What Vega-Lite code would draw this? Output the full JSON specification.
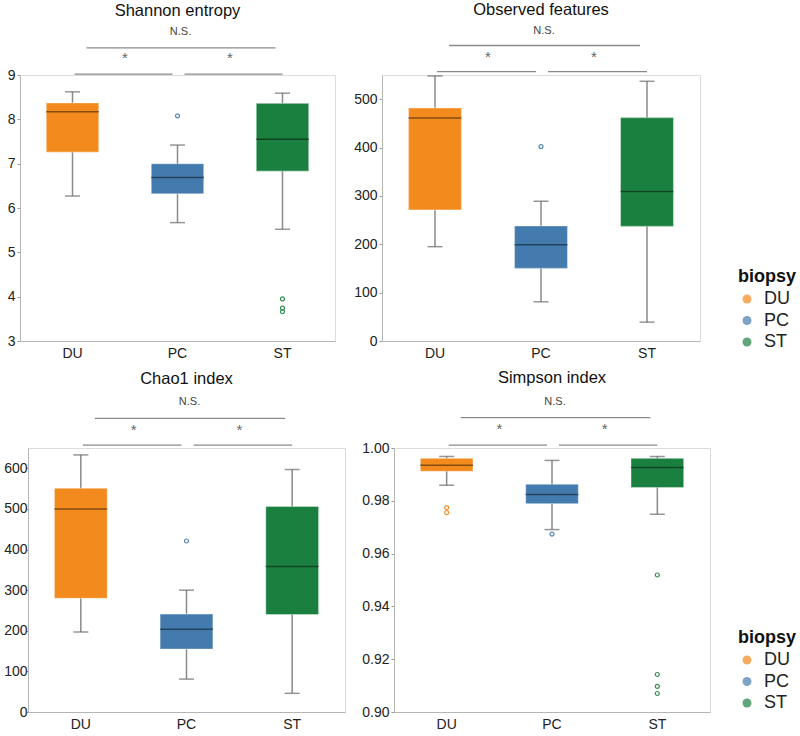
{
  "$schema": "https://vega.github.io/schema/vega-lite/v6.json",
  "padding": {"left": 0, "top": 1, "right": 0, "bottom": 0},
  "background": "white",
  "datasets": {
    "shannon_box": [
      {"biopsy": "DU", "lower": 6.27, "q1": 7.26, "median": 8.17, "q3": 8.37, "upper": 8.62},
      {"biopsy": "PC", "lower": 5.67, "q1": 6.32, "median": 6.69, "q3": 7.0, "upper": 7.42},
      {"biopsy": "ST", "lower": 5.52, "q1": 6.83, "median": 7.55, "q3": 8.36, "upper": 8.59}
    ],
    "shannon_out": [
      {"biopsy": "PC", "value": 8.08},
      {"biopsy": "ST", "value": 3.95},
      {"biopsy": "ST", "value": 3.74},
      {"biopsy": "ST", "value": 3.66}
    ],
    "shannon_brk": [
      {"kind": "left", "from": "DU", "to": "PC", "y": 9.02},
      {"kind": "right", "from": "PC", "to": "ST", "y": 9.02},
      {"kind": "top", "from": "DU", "to": "ST", "y": 9.61}
    ],
    "shannon_lab": [
      {"kind": "star", "at": "DU", "label": "*", "y": 9.38},
      {"kind": "star", "at": "PC", "label": "*", "y": 9.38},
      {"kind": "ns", "at": "PC", "label": "N.S.", "y": 9.97}
    ],
    "obs_box": [
      {"biopsy": "DU", "lower": 195, "q1": 271, "median": 461, "q3": 482, "upper": 548},
      {"biopsy": "PC", "lower": 81, "q1": 150, "median": 199, "q3": 238, "upper": 289},
      {"biopsy": "ST", "lower": 39, "q1": 237, "median": 309, "q3": 462, "upper": 537}
    ],
    "obs_out": [
      {"biopsy": "PC", "value": 402}
    ],
    "obs_brk": [
      {"kind": "left", "from": "DU", "to": "PC", "y": 557},
      {"kind": "right", "from": "PC", "to": "ST", "y": 557},
      {"kind": "top", "from": "DU", "to": "ST", "y": 611}
    ],
    "obs_lab": [
      {"kind": "star", "at": "DU", "label": "*", "y": 587},
      {"kind": "star", "at": "PC", "label": "*", "y": 587},
      {"kind": "ns", "at": "PC", "label": "N.S.", "y": 642}
    ],
    "chao_box": [
      {"biopsy": "DU", "lower": 197, "q1": 280, "median": 500, "q3": 551, "upper": 633},
      {"biopsy": "PC", "lower": 81, "q1": 155, "median": 204, "q3": 241, "upper": 300},
      {"biopsy": "ST", "lower": 46, "q1": 240, "median": 358, "q3": 506, "upper": 597}
    ],
    "chao_out": [
      {"biopsy": "PC", "value": 421}
    ],
    "chao_brk": [
      {"kind": "left", "from": "DU", "to": "PC", "y": 657},
      {"kind": "right", "from": "PC", "to": "ST", "y": 657},
      {"kind": "top", "from": "DU", "to": "ST", "y": 723}
    ],
    "chao_lab": [
      {"kind": "star", "at": "DU", "label": "*", "y": 695},
      {"kind": "star", "at": "PC", "label": "*", "y": 695},
      {"kind": "ns", "at": "PC", "label": "N.S.", "y": 763}
    ],
    "simp_box": [
      {"biopsy": "DU", "lower": 0.9859, "q1": 0.9912, "median": 0.9935, "q3": 0.9961, "upper": 0.9968},
      {"biopsy": "PC", "lower": 0.9691, "q1": 0.9789, "median": 0.9824, "q3": 0.9863, "upper": 0.9953},
      {"biopsy": "ST", "lower": 0.9749, "q1": 0.985, "median": 0.9926, "q3": 0.9961, "upper": 0.9968}
    ],
    "simp_out": [
      {"biopsy": "DU", "value": 0.9774},
      {"biopsy": "DU", "value": 0.9755},
      {"biopsy": "PC", "value": 0.9674},
      {"biopsy": "ST", "value": 0.9519},
      {"biopsy": "ST", "value": 0.9142},
      {"biopsy": "ST", "value": 0.9097},
      {"biopsy": "ST", "value": 0.907}
    ],
    "simp_brk": [
      {"kind": "left", "from": "DU", "to": "PC", "y": 1.0011},
      {"kind": "right", "from": "PC", "to": "ST", "y": 1.0011},
      {"kind": "top", "from": "DU", "to": "ST", "y": 1.0115}
    ],
    "simp_lab": [
      {"kind": "star", "at": "DU", "label": "*", "y": 1.0072},
      {"kind": "star", "at": "PC", "label": "*", "y": 1.0072},
      {"kind": "ns", "at": "PC", "label": "N.S.", "y": 1.0176}
    ],
    "none": []
  },
  "resolve": {"scale": {"color": "independent"}},
  "spacing": 8,
  "vconcat": [
    {
      "spacing": 0,
      "hconcat": [
        {"data": {"name": "none"}, "width": 1, "height": 1, "mark": "point", "encoding": {}, "view": {"stroke": "transparent"}},
        {
          "spacing": 17,
          "hconcat": [
            {
              "width": 315, "height": 266,
              "title": "Shannon entropy",
              "layer": [
                {"data": {"name": "shannon_box"}, "mark": {"type": "rule", "color": "#8a8a8a", "strokeWidth": 1.5},
                 "encoding": {
                   "x": {"field": "biopsy", "type": "nominal", "scale": {"domain": ["DU", "PC", "ST"], "paddingInner": 0, "paddingOuter": 0}, "axis": {"title": null, "labelAngle": 0}},
                   "y": {"field": "lower", "type": "quantitative", "scale": {"domain": [3, 9], "nice": false, "zero": false}, "axis": {"title": null, "values": [3, 4, 5, 6, 7, 8, 9], "minExtent": 16}},
                   "y2": {"field": "upper"}}},
                {"data": {"name": "shannon_box"}, "mark": {"type": "bar", "width": {"band": 0.5}, "stroke": "white", "strokeOpacity": 0.35, "strokeWidth": 1.2},
                 "encoding": {
                   "x": {"field": "biopsy", "type": "nominal", "axis": {"title": null}},
                   "y": {"field": "q1", "type": "quantitative", "axis": {"title": null}}, "y2": {"field": "q3"},
                   "color": {"field": "biopsy", "type": "nominal", "scale": {"domain": ["DU", "PC", "ST"], "range": ["#F28A1E", "#447BAE", "#1A8040"]}, "legend": {"title": "biopsy", "orient": "none", "legendX": 737, "legendY": 193}}}},
                {"data": {"name": "shannon_box"}, "mark": {"type": "tick", "color": "#000", "opacity": 0.45, "size": 53, "thickness": 1.5},
                 "encoding": {"x": {"field": "biopsy", "type": "nominal", "axis": {"title": null}}, "y": {"field": "median", "type": "quantitative", "axis": {"title": null}}}},
                {"data": {"name": "shannon_box"}, "mark": {"type": "tick", "color": "#6a6a6a", "size": 15, "thickness": 1.5},
                 "encoding": {"x": {"field": "biopsy", "type": "nominal", "axis": {"title": null}}, "y": {"field": "lower", "type": "quantitative", "axis": {"title": null}}}},
                {"data": {"name": "shannon_box"}, "mark": {"type": "tick", "color": "#6a6a6a", "size": 15, "thickness": 1.5},
                 "encoding": {"x": {"field": "biopsy", "type": "nominal", "axis": {"title": null}}, "y": {"field": "upper", "type": "quantitative", "axis": {"title": null}}}},
                {"data": {"name": "shannon_out"}, "mark": {"type": "point", "filled": false, "size": 16, "strokeWidth": 1.2, "opacity": 0.9},
                 "encoding": {"x": {"field": "biopsy", "type": "nominal", "axis": {"title": null}}, "y": {"field": "value", "type": "quantitative", "axis": {"title": null}}, "color": {"field": "biopsy", "type": "nominal", "legend": null}}},
                {"data": {"name": "shannon_brk"}, "transform": [{"filter": "datum.kind === 'left'"}], "mark": {"type": "rule", "color": "#8a8a8a", "strokeWidth": 1.3, "xOffset": 2, "x2Offset": -5},
                 "encoding": {"x": {"field": "from", "type": "nominal", "axis": {"title": null}}, "x2": {"field": "to"}, "y": {"field": "y", "type": "quantitative", "axis": {"title": null}}}},
                {"data": {"name": "shannon_brk"}, "transform": [{"filter": "datum.kind === 'right'"}], "mark": {"type": "rule", "color": "#8a8a8a", "strokeWidth": 1.3, "xOffset": 7, "x2Offset": 0},
                 "encoding": {"x": {"field": "from", "type": "nominal", "axis": {"title": null}}, "x2": {"field": "to"}, "y": {"field": "y", "type": "quantitative", "axis": {"title": null}}}},
                {"data": {"name": "shannon_brk"}, "transform": [{"filter": "datum.kind === 'top'"}], "mark": {"type": "rule", "color": "#8a8a8a", "strokeWidth": 1.3, "xOffset": 14, "x2Offset": -7},
                 "encoding": {"x": {"field": "from", "type": "nominal", "axis": {"title": null}}, "x2": {"field": "to"}, "y": {"field": "y", "type": "quantitative", "axis": {"title": null}}}},
                {"data": {"name": "shannon_lab"}, "transform": [{"filter": "datum.kind === 'star'"}], "mark": {"type": "text", "fontSize": 15, "color": "#666", "baseline": "middle"},
                 "encoding": {"x": {"field": "at", "type": "nominal", "bandPosition": 1, "axis": {"title": null}}, "y": {"field": "y", "type": "quantitative", "axis": {"title": null}}, "text": {"field": "label"}}},
                {"data": {"name": "shannon_lab"}, "transform": [{"filter": "datum.kind === 'ns'"}], "mark": {"type": "text", "fontSize": 11, "color": "#444", "baseline": "middle", "dx": 3},
                 "encoding": {"x": {"field": "at", "type": "nominal", "axis": {"title": null}}, "y": {"field": "y", "type": "quantitative", "axis": {"title": null}}, "text": {"field": "label"}}}
              ]
            },
            {
              "width": 318, "height": 266,
              "title": "Observed features",
              "layer": [
                {"data": {"name": "obs_box"}, "mark": {"type": "rule", "color": "#8a8a8a", "strokeWidth": 1.5},
                 "encoding": {
                   "x": {"field": "biopsy", "type": "nominal", "scale": {"domain": ["DU", "PC", "ST"], "paddingInner": 0, "paddingOuter": 0}, "axis": {"title": null, "labelAngle": 0}},
                   "y": {"field": "lower", "type": "quantitative", "scale": {"domain": [0, 550], "nice": false}, "axis": {"title": null, "values": [0, 100, 200, 300, 400, 500]}},
                   "y2": {"field": "upper"}}},
                {"data": {"name": "obs_box"}, "mark": {"type": "bar", "width": {"band": 0.5}, "stroke": "white", "strokeOpacity": 0.35, "strokeWidth": 1.2},
                 "encoding": {
                   "x": {"field": "biopsy", "type": "nominal", "axis": {"title": null}},
                   "y": {"field": "q1", "type": "quantitative", "axis": {"title": null}}, "y2": {"field": "q3"},
                   "color": {"field": "biopsy", "type": "nominal", "scale": {"domain": ["DU", "PC", "ST"], "range": ["#F28A1E", "#447BAE", "#1A8040"]}, "legend": {"title": "biopsy", "orient": "none", "legendX": 737, "legendY": 193}}}},
                {"data": {"name": "obs_box"}, "mark": {"type": "tick", "color": "#000", "opacity": 0.45, "size": 53, "thickness": 1.5},
                 "encoding": {"x": {"field": "biopsy", "type": "nominal", "axis": {"title": null}}, "y": {"field": "median", "type": "quantitative", "axis": {"title": null}}}},
                {"data": {"name": "obs_box"}, "mark": {"type": "tick", "color": "#6a6a6a", "size": 15, "thickness": 1.5},
                 "encoding": {"x": {"field": "biopsy", "type": "nominal", "axis": {"title": null}}, "y": {"field": "lower", "type": "quantitative", "axis": {"title": null}}}},
                {"data": {"name": "obs_box"}, "mark": {"type": "tick", "color": "#6a6a6a", "size": 15, "thickness": 1.5},
                 "encoding": {"x": {"field": "biopsy", "type": "nominal", "axis": {"title": null}}, "y": {"field": "upper", "type": "quantitative", "axis": {"title": null}}}},
                {"data": {"name": "obs_out"}, "mark": {"type": "point", "filled": false, "size": 16, "strokeWidth": 1.2, "opacity": 0.9},
                 "encoding": {"x": {"field": "biopsy", "type": "nominal", "axis": {"title": null}}, "y": {"field": "value", "type": "quantitative", "axis": {"title": null}}, "color": {"field": "biopsy", "type": "nominal", "legend": null}}},
                {"data": {"name": "obs_brk"}, "transform": [{"filter": "datum.kind === 'left'"}], "mark": {"type": "rule", "color": "#8a8a8a", "strokeWidth": 1.3, "xOffset": 2, "x2Offset": -5},
                 "encoding": {"x": {"field": "from", "type": "nominal", "axis": {"title": null}}, "x2": {"field": "to"}, "y": {"field": "y", "type": "quantitative", "axis": {"title": null}}}},
                {"data": {"name": "obs_brk"}, "transform": [{"filter": "datum.kind === 'right'"}], "mark": {"type": "rule", "color": "#8a8a8a", "strokeWidth": 1.3, "xOffset": 7, "x2Offset": 0},
                 "encoding": {"x": {"field": "from", "type": "nominal", "axis": {"title": null}}, "x2": {"field": "to"}, "y": {"field": "y", "type": "quantitative", "axis": {"title": null}}}},
                {"data": {"name": "obs_brk"}, "transform": [{"filter": "datum.kind === 'top'"}], "mark": {"type": "rule", "color": "#8a8a8a", "strokeWidth": 1.3, "xOffset": 14, "x2Offset": -7},
                 "encoding": {"x": {"field": "from", "type": "nominal", "axis": {"title": null}}, "x2": {"field": "to"}, "y": {"field": "y", "type": "quantitative", "axis": {"title": null}}}},
                {"data": {"name": "obs_lab"}, "transform": [{"filter": "datum.kind === 'star'"}], "mark": {"type": "text", "fontSize": 15, "color": "#666", "baseline": "middle"},
                 "encoding": {"x": {"field": "at", "type": "nominal", "bandPosition": 1, "axis": {"title": null}}, "y": {"field": "y", "type": "quantitative", "axis": {"title": null}}, "text": {"field": "label"}}},
                {"data": {"name": "obs_lab"}, "transform": [{"filter": "datum.kind === 'ns'"}], "mark": {"type": "text", "fontSize": 11, "color": "#444", "baseline": "middle", "dx": 3},
                 "encoding": {"x": {"field": "at", "type": "nominal", "axis": {"title": null}}, "y": {"field": "y", "type": "quantitative", "axis": {"title": null}}, "text": {"field": "label"}}}
              ]
            }
          ]
        }
      ]
    },
    {
      "spacing": 0,
      "hconcat": [
        {"data": {"name": "none"}, "width": 1, "height": 1, "mark": "point", "encoding": {}, "view": {"stroke": "transparent"}},
        {
          "spacing": 15,
          "hconcat": [
            {
              "width": 317, "height": 264,
              "title": {"text": "Chao1 index", "offset": 9},
              "layer": [
                {"data": {"name": "chao_box"}, "mark": {"type": "rule", "color": "#8a8a8a", "strokeWidth": 1.5},
                 "encoding": {
                   "x": {"field": "biopsy", "type": "nominal", "scale": {"domain": ["DU", "PC", "ST"], "paddingInner": 0, "paddingOuter": 0}, "axis": {"title": null, "labelAngle": 0}},
                   "y": {"field": "lower", "type": "quantitative", "scale": {"domain": [0, 650], "nice": false}, "axis": {"title": null, "values": [0, 100, 200, 300, 400, 500, 600], "tickSize": 2, "labelPadding": -1}},
                   "y2": {"field": "upper"}}},
                {"data": {"name": "chao_box"}, "mark": {"type": "bar", "width": {"band": 0.5}, "stroke": "white", "strokeOpacity": 0.35, "strokeWidth": 1.2},
                 "encoding": {
                   "x": {"field": "biopsy", "type": "nominal", "axis": {"title": null}},
                   "y": {"field": "q1", "type": "quantitative", "axis": {"title": null}}, "y2": {"field": "q3"},
                   "color": {"field": "biopsy", "type": "nominal", "scale": {"domain": ["DU", "PC", "ST"], "range": ["#F28A1E", "#447BAE", "#1A8040"]}, "legend": {"title": "biopsy", "orient": "none", "legendX": 737, "legendY": 181}}}},
                {"data": {"name": "chao_box"}, "mark": {"type": "tick", "color": "#000", "opacity": 0.45, "size": 53, "thickness": 1.5},
                 "encoding": {"x": {"field": "biopsy", "type": "nominal", "axis": {"title": null}}, "y": {"field": "median", "type": "quantitative", "axis": {"title": null}}}},
                {"data": {"name": "chao_box"}, "mark": {"type": "tick", "color": "#6a6a6a", "size": 15, "thickness": 1.5},
                 "encoding": {"x": {"field": "biopsy", "type": "nominal", "axis": {"title": null}}, "y": {"field": "lower", "type": "quantitative", "axis": {"title": null}}}},
                {"data": {"name": "chao_box"}, "mark": {"type": "tick", "color": "#6a6a6a", "size": 15, "thickness": 1.5},
                 "encoding": {"x": {"field": "biopsy", "type": "nominal", "axis": {"title": null}}, "y": {"field": "upper", "type": "quantitative", "axis": {"title": null}}}},
                {"data": {"name": "chao_out"}, "mark": {"type": "point", "filled": false, "size": 16, "strokeWidth": 1.2, "opacity": 0.9},
                 "encoding": {"x": {"field": "biopsy", "type": "nominal", "axis": {"title": null}}, "y": {"field": "value", "type": "quantitative", "axis": {"title": null}}, "color": {"field": "biopsy", "type": "nominal", "legend": null}}},
                {"data": {"name": "chao_brk"}, "transform": [{"filter": "datum.kind === 'left'"}], "mark": {"type": "rule", "color": "#8a8a8a", "strokeWidth": 1.3, "xOffset": 2, "x2Offset": -5},
                 "encoding": {"x": {"field": "from", "type": "nominal", "axis": {"title": null}}, "x2": {"field": "to"}, "y": {"field": "y", "type": "quantitative", "axis": {"title": null}}}},
                {"data": {"name": "chao_brk"}, "transform": [{"filter": "datum.kind === 'right'"}], "mark": {"type": "rule", "color": "#8a8a8a", "strokeWidth": 1.3, "xOffset": 7, "x2Offset": 0},
                 "encoding": {"x": {"field": "from", "type": "nominal", "axis": {"title": null}}, "x2": {"field": "to"}, "y": {"field": "y", "type": "quantitative", "axis": {"title": null}}}},
                {"data": {"name": "chao_brk"}, "transform": [{"filter": "datum.kind === 'top'"}], "mark": {"type": "rule", "color": "#8a8a8a", "strokeWidth": 1.3, "xOffset": 14, "x2Offset": -7},
                 "encoding": {"x": {"field": "from", "type": "nominal", "axis": {"title": null}}, "x2": {"field": "to"}, "y": {"field": "y", "type": "quantitative", "axis": {"title": null}}}},
                {"data": {"name": "chao_lab"}, "transform": [{"filter": "datum.kind === 'star'"}], "mark": {"type": "text", "fontSize": 15, "color": "#666", "baseline": "middle"},
                 "encoding": {"x": {"field": "at", "type": "nominal", "bandPosition": 1, "axis": {"title": null}}, "y": {"field": "y", "type": "quantitative", "axis": {"title": null}}, "text": {"field": "label"}}},
                {"data": {"name": "chao_lab"}, "transform": [{"filter": "datum.kind === 'ns'"}], "mark": {"type": "text", "fontSize": 11, "color": "#444", "baseline": "middle", "dx": 3},
                 "encoding": {"x": {"field": "at", "type": "nominal", "axis": {"title": null}}, "y": {"field": "y", "type": "quantitative", "axis": {"title": null}}, "text": {"field": "label"}}}
              ]
            },
            {
              "width": 316, "height": 264,
              "title": {"text": "Simpson index", "offset": 9},
              "layer": [
                {"data": {"name": "simp_box"}, "mark": {"type": "rule", "color": "#8a8a8a", "strokeWidth": 1.5},
                 "encoding": {
                   "x": {"field": "biopsy", "type": "nominal", "scale": {"domain": ["DU", "PC", "ST"], "paddingInner": 0, "paddingOuter": 0}, "axis": {"title": null, "labelAngle": 0}},
                   "y": {"field": "lower", "type": "quantitative", "scale": {"domain": [0.9, 1.0], "nice": false, "zero": false}, "axis": {"title": null, "values": [0.9, 0.92, 0.94, 0.96, 0.98, 1.0], "format": ".2f"}},
                   "y2": {"field": "upper"}}},
                {"data": {"name": "simp_box"}, "mark": {"type": "bar", "width": {"band": 0.5}, "stroke": "white", "strokeOpacity": 0.35, "strokeWidth": 1.2},
                 "encoding": {
                   "x": {"field": "biopsy", "type": "nominal", "axis": {"title": null}},
                   "y": {"field": "q1", "type": "quantitative", "axis": {"title": null}}, "y2": {"field": "q3"},
                   "color": {"field": "biopsy", "type": "nominal", "scale": {"domain": ["DU", "PC", "ST"], "range": ["#F28A1E", "#447BAE", "#1A8040"]}, "legend": {"title": "biopsy", "orient": "none", "legendX": 737, "legendY": 181}}}},
                {"data": {"name": "simp_box"}, "mark": {"type": "tick", "color": "#000", "opacity": 0.45, "size": 53, "thickness": 1.5},
                 "encoding": {"x": {"field": "biopsy", "type": "nominal", "axis": {"title": null}}, "y": {"field": "median", "type": "quantitative", "axis": {"title": null}}}},
                {"data": {"name": "simp_box"}, "mark": {"type": "tick", "color": "#6a6a6a", "size": 15, "thickness": 1.5},
                 "encoding": {"x": {"field": "biopsy", "type": "nominal", "axis": {"title": null}}, "y": {"field": "lower", "type": "quantitative", "axis": {"title": null}}}},
                {"data": {"name": "simp_box"}, "mark": {"type": "tick", "color": "#6a6a6a", "size": 15, "thickness": 1.5},
                 "encoding": {"x": {"field": "biopsy", "type": "nominal", "axis": {"title": null}}, "y": {"field": "upper", "type": "quantitative", "axis": {"title": null}}}},
                {"data": {"name": "simp_out"}, "mark": {"type": "point", "filled": false, "size": 16, "strokeWidth": 1.2, "opacity": 0.9},
                 "encoding": {"x": {"field": "biopsy", "type": "nominal", "axis": {"title": null}}, "y": {"field": "value", "type": "quantitative", "axis": {"title": null}}, "color": {"field": "biopsy", "type": "nominal", "legend": null}}},
                {"data": {"name": "simp_brk"}, "transform": [{"filter": "datum.kind === 'left'"}], "mark": {"type": "rule", "color": "#8a8a8a", "strokeWidth": 1.3, "xOffset": 2, "x2Offset": -5},
                 "encoding": {"x": {"field": "from", "type": "nominal", "axis": {"title": null}}, "x2": {"field": "to"}, "y": {"field": "y", "type": "quantitative", "axis": {"title": null}}}},
                {"data": {"name": "simp_brk"}, "transform": [{"filter": "datum.kind === 'right'"}], "mark": {"type": "rule", "color": "#8a8a8a", "strokeWidth": 1.3, "xOffset": 7, "x2Offset": 0},
                 "encoding": {"x": {"field": "from", "type": "nominal", "axis": {"title": null}}, "x2": {"field": "to"}, "y": {"field": "y", "type": "quantitative", "axis": {"title": null}}}},
                {"data": {"name": "simp_brk"}, "transform": [{"filter": "datum.kind === 'top'"}], "mark": {"type": "rule", "color": "#8a8a8a", "strokeWidth": 1.3, "xOffset": 14, "x2Offset": -7},
                 "encoding": {"x": {"field": "from", "type": "nominal", "axis": {"title": null}}, "x2": {"field": "to"}, "y": {"field": "y", "type": "quantitative", "axis": {"title": null}}}},
                {"data": {"name": "simp_lab"}, "transform": [{"filter": "datum.kind === 'star'"}], "mark": {"type": "text", "fontSize": 15, "color": "#666", "baseline": "middle"},
                 "encoding": {"x": {"field": "at", "type": "nominal", "bandPosition": 1, "axis": {"title": null}}, "y": {"field": "y", "type": "quantitative", "axis": {"title": null}}, "text": {"field": "label"}}},
                {"data": {"name": "simp_lab"}, "transform": [{"filter": "datum.kind === 'ns'"}], "mark": {"type": "text", "fontSize": 11, "color": "#444", "baseline": "middle", "dx": 3},
                 "encoding": {"x": {"field": "at", "type": "nominal", "axis": {"title": null}}, "y": {"field": "y", "type": "quantitative", "axis": {"title": null}}, "text": {"field": "label"}}}
              ]
            }
          ]
        }
      ]
    }
  ],
  "config": {
    "font": "Liberation Sans",
    "view": {"stroke": "#dcdcdc"},
    "axis": {"labelFont": "Liberation Sans", "labelFontSize": 14, "labelColor": "#222", "domainColor": "#b5b5b5", "tickColor": "#999", "tickSize": 3, "labelPadding": 2, "grid": false},
    "axisX": {"ticks": false, "labelPadding": 5, "labelFontSize": 14},
    "title": {"font": "Liberation Sans", "fontSize": 16.5, "fontWeight": "normal", "color": "#111", "anchor": "middle", "offset": 6},
    "legend": {"titleFont": "Liberation Sans", "titleFontSize": 18, "titleFontWeight": "bold", "titleColor": "#111", "labelFont": "Liberation Sans", "labelFontSize": 18, "labelColor": "#222", "symbolType": "circle", "symbolSize": 80, "symbolOpacity": 0.7, "symbolStrokeWidth": 0, "labelOffset": 8, "rowPadding": 3.5, "titlePadding": 4}
  }
}
